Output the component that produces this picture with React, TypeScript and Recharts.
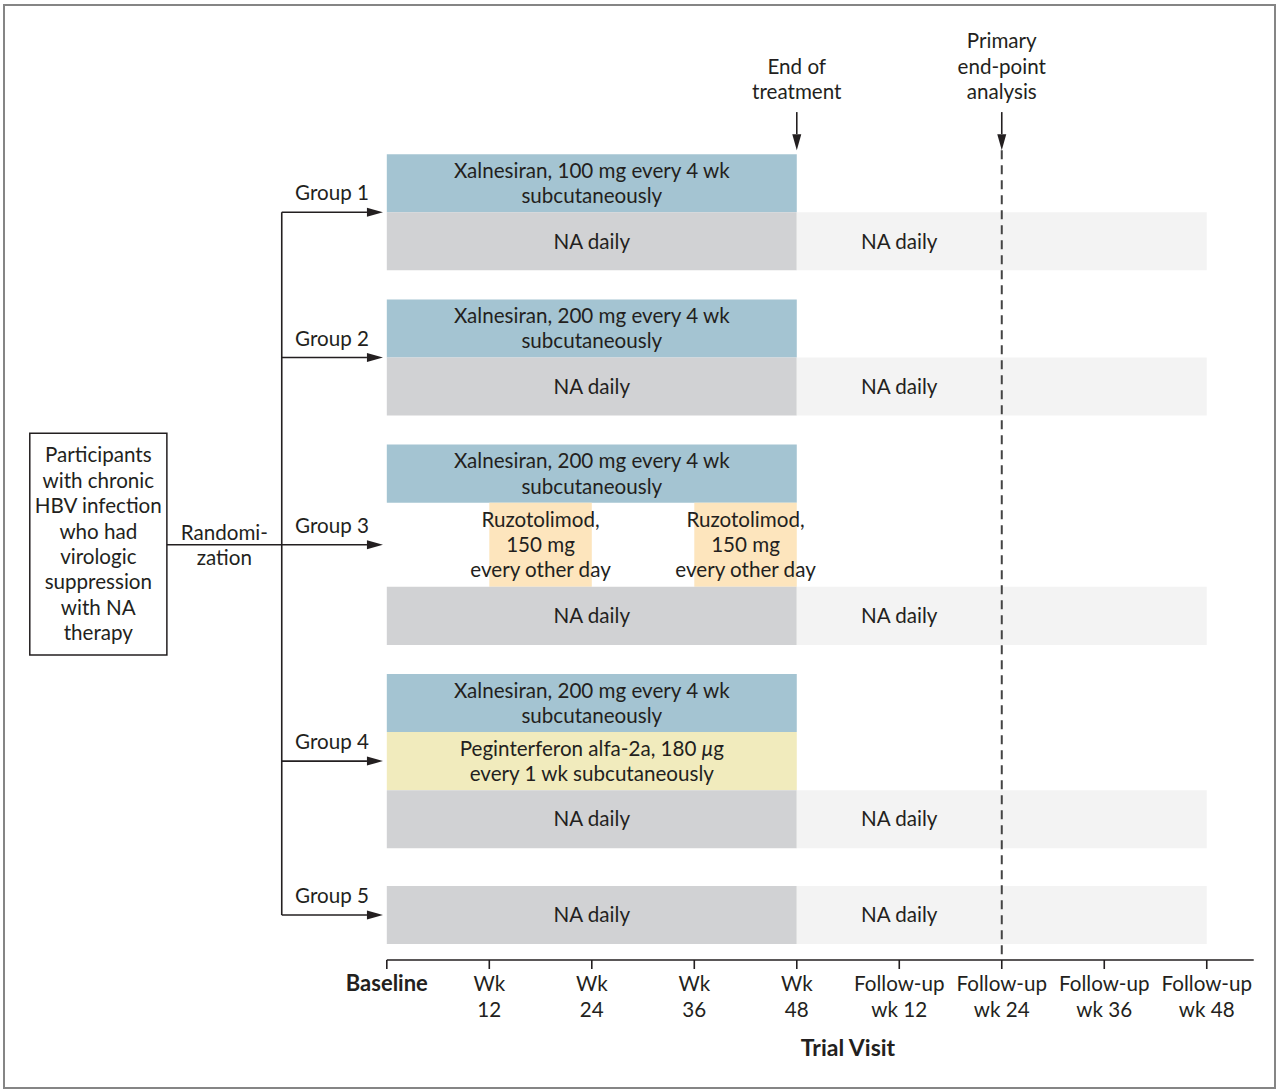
import React from 'react';
import { ComposedChart, XAxis, YAxis, ReferenceArea, ReferenceLine, ReferenceDot } from 'recharts';

const FONT = 'Lato, "Noto Sans", sans-serif';
const INK = '#231f20';
const FS = 20.6;

// trial visits, weeks from baseline
const visitWeeks = [0, 12, 24, 36, 48, 60, 72, 84, 96];
const visitTop = ['Baseline', 'Wk', 'Wk', 'Wk', 'Wk', 'Follow-up', 'Follow-up', 'Follow-up', 'Follow-up'];
const visitBottom = ['', '12', '24', '36', '48', 'wk 12', 'wk 24', 'wk 36', 'wk 48'];

const endOfTreatmentWeek = 48;
const primaryEndpointWeek = 72;

// treatment segments per group: weeks on x, lane band on y
type Seg = { kind: string; from: number; to: number; top: number; bottom: number; text: string[]; textAt?: number };

const xal100 = ['Xalnesiran, 100 mg every 4 wk', 'subcutaneously'];
const xal200 = ['Xalnesiran, 200 mg every 4 wk', 'subcutaneously'];
const naDaily = ['NA daily'];
const ruzo = ['Ruzotolimod,', '150 mg', 'every other day'];
const peg = ['Peginterferon alfa-2a, 180 μg', 'every 1 wk subcutaneously'];

const group1: Seg[] = [
  { kind: 'xal', from: 0, to: 48, top: 0, bottom: 2, text: xal100 },
  { kind: 'na', from: 0, to: 48, top: 2, bottom: 4, text: naDaily },
  { kind: 'naFollow', from: 48, to: 96, top: 2, bottom: 4, text: naDaily, textAt: 60 },
];
const group2: Seg[] = [
  { kind: 'xal', from: 0, to: 48, top: 5, bottom: 7, text: xal200 },
  { kind: 'na', from: 0, to: 48, top: 7, bottom: 9, text: naDaily },
  { kind: 'naFollow', from: 48, to: 96, top: 7, bottom: 9, text: naDaily, textAt: 60 },
];
const group3: Seg[] = [
  { kind: 'xal', from: 0, to: 48, top: 10, bottom: 12, text: xal200 },
  { kind: 'ruzo', from: 12, to: 24, top: 12, bottom: 14.9, text: ruzo },
  { kind: 'ruzo', from: 36, to: 48, top: 12, bottom: 14.9, text: ruzo },
  { kind: 'na', from: 0, to: 48, top: 14.9, bottom: 16.9, text: naDaily },
  { kind: 'naFollow', from: 48, to: 96, top: 14.9, bottom: 16.9, text: naDaily, textAt: 60 },
];
const group4: Seg[] = [
  { kind: 'xal', from: 0, to: 48, top: 17.9, bottom: 19.9, text: xal200 },
  { kind: 'peg', from: 0, to: 48, top: 19.9, bottom: 21.9, text: peg },
  { kind: 'na', from: 0, to: 48, top: 21.9, bottom: 23.9, text: naDaily },
  { kind: 'naFollow', from: 48, to: 96, top: 21.9, bottom: 23.9, text: naDaily, textAt: 60 },
];
const group5: Seg[] = [
  { kind: 'na', from: 0, to: 48, top: 25.2, bottom: 27.2, text: naDaily },
  { kind: 'naFollow', from: 48, to: 96, top: 25.2, bottom: 27.2, text: naDaily, textAt: 60 },
];

const groupNames = ['Group 1', 'Group 2', 'Group 3', 'Group 4', 'Group 5'];
const groupArrowLane = [2, 7, 13.45, 20.9, 26.2];

const participantsText = ['Participants', 'with chronic', 'HBV infection', 'who had', 'virologic', 'suppression', 'with NA', 'therapy'];

const fills: Record<string, string> = {
  xal: '#a4c4d2',
  na: '#d1d2d4',
  naFollow: '#f3f3f3',
  ruzo: '#fde5bd',
  peg: '#f1ebbd',
};

// layout of the flow diagram on the left (in chart units)
const X_MIN = -44;
const X_MAX = 102;
const Y_MIN = -5;
const AXIS_Y = 27.75;
const BOX = { x1: -41.8, x2: -25.75, y1: 9.61, y2: 17.25 };
const TRUNK_X = -12.3;
const ARROW_TIP = -0.45;
const AXIS_END = 101.5;

function withMu(line: string) {
  if (!line.includes('μ')) return line;
  const [a, b] = line.split('μ');
  return (
    <>
      {a}
      <tspan fontStyle="italic">μ</tspan>
      {b}
    </>
  );
}

function TextBlock({ x, cy, lines, anchor = 'middle', bold = false, size = FS, lh = 25.4 }: any) {
  const first = cy - ((lines.length - 1) * lh) / 2 + size * 0.35;
  return (
    <text x={x} y={first} textAnchor={anchor} fontFamily={FONT} fontSize={size} fontWeight={bold ? 700 : 400} fill={INK}>
      {lines.map((l: string, i: number) => (
        <tspan key={i} x={x} dy={i === 0 ? 0 : lh}>
          {withMu(l)}
        </tspan>
      ))}
    </text>
  );
}

function Arrow(p: any) {
  const { x1, y1, x2, y2 } = p;
  const len = Math.hypot(x2 - x1, y2 - y1) || 1;
  const ux = (x2 - x1) / len;
  const uy = (y2 - y1) / len;
  const head = 16;
  const half = 4.5;
  const bx = x2 - ux * head;
  const by = y2 - uy * head;
  return (
    <g>
      <line x1={x1} y1={y1} x2={bx} y2={by} stroke={INK} strokeWidth={1.6} />
      <polygon
        points={`${x2},${y2} ${bx - uy * half},${by + ux * half} ${bx + uy * half},${by - ux * half}`}
        fill={INK}
      />
    </g>
  );
}

function VisitTick(props: any) {
  const { x, y, payload } = props;
  const i = visitWeeks.indexOf(payload.value);
  const bold = i === 0;
  return (
    <text x={x} y={y + 20} textAnchor="middle" fontFamily={FONT} fontSize={bold ? 22 : FS} fontWeight={bold ? 700 : 400} fill={INK}>
      <tspan x={x} dy={0}>{visitTop[i]}</tspan>
      {visitBottom[i] && <tspan x={x} dy={25.5}>{visitBottom[i]}</tspan>}
    </text>
  );
}

const allSegments = [...group1, ...group2, ...group3, ...group4, ...group5];

export default function App() {
  return (
    <div style={{ position: 'relative', width: 1280, height: 1092 }}>
      <style>{'body{margin:0}'}</style>
      <div
        style={{
          position: 'absolute', left: 3, top: 4, width: 1273, height: 1085,
          border: '2px solid #858585', boxSizing: 'border-box',
        }}
      />
      <div style={{ position: 'absolute', left: 0, top: 0 }}>
        <ComposedChart width={1280} height={1092} data={[]} margin={{ top: 9, right: 22, bottom: 72, left: 11 }}>
          <XAxis
            type="number"
            dataKey="x"
            domain={[X_MIN, X_MAX]}
            ticks={visitWeeks}
            allowDataOverflow
            axisLine={false}
            tickLine={{ stroke: INK, strokeWidth: 1.6 }}
            tickSize={9}
            height={60}
            tick={(p: any) => <VisitTick {...p} />}
            interval={0}
          />
          <YAxis type="number" dataKey="y" domain={[Y_MIN, AXIS_Y]} reversed hide allowDataOverflow />

          {allSegments.map((s, i) => (
            <ReferenceArea
              key={`seg-${i}`}
              x1={s.from}
              x2={s.to}
              y1={s.top}
              y2={s.bottom}
              fill={fills[s.kind]}
              fillOpacity={1}
              stroke="none"
              ifOverflow="visible"
              label={(p: any) => {
                const vb = p.viewBox;
                const at = s.textAt ?? (s.from + s.to) / 2;
                const cx = vb.x + (vb.width * (at - s.from)) / (s.to - s.from);
                return <TextBlock x={cx} cy={vb.y + vb.height / 2} lines={s.text} />;
              }}
            />
          ))}

          {/* participants box */}
          <ReferenceArea
            x1={BOX.x1}
            x2={BOX.x2}
            y1={BOX.y1}
            y2={BOX.y2}
            fill="#ffffff"
            fillOpacity={1}
            stroke={INK}
            strokeWidth={1.5}
            ifOverflow="visible"
            label={(p: any) => (
              <TextBlock x={p.viewBox.x + p.viewBox.width / 2} cy={p.viewBox.y + p.viewBox.height / 2} lines={participantsText} />
            )}
          />

          {/* randomization line */}
          <ReferenceLine
            segment={[{ x: BOX.x2, y: groupArrowLane[2] }, { x: TRUNK_X, y: groupArrowLane[2] }]}
            stroke={INK}
            strokeWidth={1.6}
            ifOverflow="visible"
            label={(p: any) => {
              const vb = p.viewBox;
              const cx = vb.x + vb.width / 2;
              return (
                <g>
                  <TextBlock x={cx} cy={vb.y - 12} lines={['Randomi-']} />
                  <TextBlock x={cx} cy={vb.y + 13} lines={['zation']} />
                </g>
              );
            }}
          />

          {/* trunk */}
          <ReferenceLine
            segment={[{ x: TRUNK_X, y: groupArrowLane[0] }, { x: TRUNK_X, y: groupArrowLane[4] }]}
            stroke={INK}
            strokeWidth={1.6}
            ifOverflow="visible"
          />

          {groupNames.map((g, i) => (
            <ReferenceLine
              key={g}
              segment={[{ x: TRUNK_X, y: groupArrowLane[i] }, { x: ARROW_TIP, y: groupArrowLane[i] }]}
              stroke={INK}
              ifOverflow="visible"
              shape={(p: any) => <Arrow {...p} />}
              label={(p: any) => {
                const vb = p.viewBox;
                return <TextBlock x={vb.x + vb.width - 14} cy={vb.y - 19} lines={[g]} anchor="end" />;
              }}
            />
          ))}

          {/* x axis line */}
          <ReferenceLine
            segment={[{ x: 0, y: AXIS_Y }, { x: AXIS_END, y: AXIS_Y }]}
            stroke={INK}
            strokeWidth={1.6}
            ifOverflow="visible"
          />

          {/* primary end-point dashed line */}
          <ReferenceLine
            segment={[{ x: primaryEndpointWeek, y: -0.14 }, { x: primaryEndpointWeek, y: AXIS_Y }]}
            stroke="#444444"
            strokeWidth={2}
            strokeDasharray="9 6"
            ifOverflow="visible"
          />

          <ReferenceLine
            segment={[{ x: endOfTreatmentWeek, y: -1.45 }, { x: endOfTreatmentWeek, y: -0.14 }]}
            stroke={INK}
            ifOverflow="visible"
            shape={(p: any) => <Arrow {...p} />}
            label={(p: any) => (
              <TextBlock x={p.viewBox.x} cy={p.viewBox.y - 20 - 12.7} lines={['End of', 'treatment']} />
            )}
          />
          <ReferenceLine
            segment={[{ x: primaryEndpointWeek, y: -1.45 }, { x: primaryEndpointWeek, y: -0.14 }]}
            stroke={INK}
            ifOverflow="visible"
            shape={(p: any) => <Arrow {...p} />}
            label={(p: any) => (
              <TextBlock x={p.viewBox.x} cy={p.viewBox.y - 20 - 25.4} lines={['Primary', 'end-point', 'analysis']} />
            )}
          />

          <ReferenceDot
            x={54}
            y={AXIS_Y}
            r={0}
            fill="none"
            stroke="none"
            ifOverflow="visible"
            label={(p: any) => {
              const vb = p.viewBox;
              return <TextBlock x={vb.x + (vb.width || 0) / 2} cy={vb.y + (vb.height || 0) / 2 + 88} lines={['Trial Visit']} bold size={23} />;
            }}
          />
        </ComposedChart>
      </div>
    </div>
  );
}
